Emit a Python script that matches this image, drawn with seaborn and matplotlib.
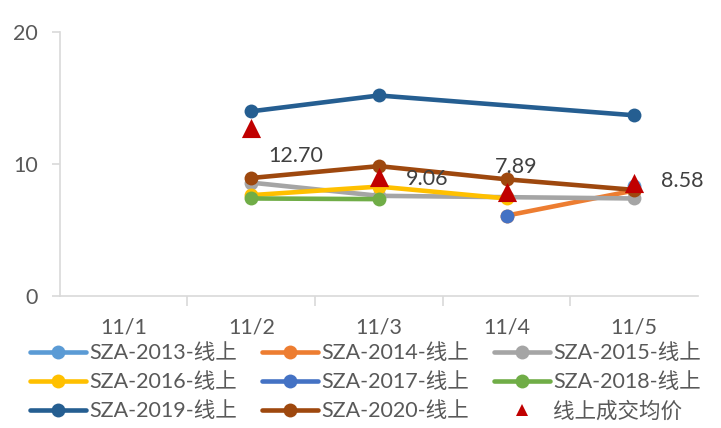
import numpy as np
import pandas as pd
import seaborn as sns
import matplotlib.pyplot as plt
from matplotlib.lines import Line2D

# 数据
dates = ['11/1', '11/2', '11/3', '11/4', '11/5']
series_names = ['SZA-2013-线上', 'SZA-2014-线上', 'SZA-2015-线上', 'SZA-2016-线上',
                'SZA-2017-线上', 'SZA-2018-线上', 'SZA-2019-线上', 'SZA-2020-线上']
sza_2013 = [np.nan, np.nan, np.nan, np.nan, 8.35]
sza_2014 = [np.nan, np.nan, np.nan, 6.1, 8.0]
sza_2015 = [np.nan, 8.6, 7.6, 7.5, 7.4]
sza_2016 = [np.nan, 7.65, 8.3, 7.4, np.nan]
sza_2017 = [np.nan, np.nan, np.nan, 6.1, np.nan]
sza_2018 = [np.nan, 7.4, 7.35, np.nan, np.nan]
sza_2019 = [np.nan, 14.0, 15.2, np.nan, 13.7]
sza_2020 = [np.nan, 8.95, 9.85, 8.85, 8.05]
avg_price = [np.nan, 12.70, 9.06, 7.89, 8.58]
avg_label = '线上成交均价'

colors = ['#5b9bd5', '#ed7d31', '#a5a5a5', '#ffc000',
          '#4472c4', '#70ad47', '#255e91', '#9e480e']

all_series = [sza_2013, sza_2014, sza_2015, sza_2016,
              sza_2017, sza_2018, sza_2019, sza_2020]

rows = []
for name, vals in zip(series_names, all_series):
    for i, v in enumerate(vals):
        rows.append({'pos': i, 'series': name, 'value': v})
df = pd.DataFrame(rows).dropna()
df_avg = pd.DataFrame({'pos': range(len(dates)), 'value': avg_price}).dropna()

sns.set_style('white')
plt.rcParams['font.family'] = ['Lato', 'Noto Sans CJK SC', 'DejaVu Sans']

fig = plt.figure(figsize=(7.21, 4.28), dpi=100)
ax = fig.add_axes([0.083, 0.308, 0.885, 0.617])

# 折线
for name, col in zip(series_names, colors):
    sub = df[df['series'] == name]
    sns.lineplot(data=sub, x='pos', y='value', color=col, linewidth=3.3,
                 marker='o', markersize=10, markeredgewidth=0, ax=ax,
                 legend=False, sort=True)

# 均价三角
sns.scatterplot(data=df_avg, x='pos', y='value', marker='^', color='#c00000',
                s=190, linewidth=0, ax=ax, zorder=5, legend=False)

# 数据标签
offsets = [(32, -20), (35, -2), (7, 18), (35, 1.5)]
for (x, y), (dx, dy) in zip(df_avg[['pos', 'value']].values, offsets):
    ax.annotate(f'{y:.2f}', (x, y), xytext=(dx, dy), textcoords='offset points',
                ha='center', va='center', fontsize=15.5, color='#404040')

ax.set_xlim(-0.5, len(dates) - 0.5)
ax.set_ylim(0, 20)
ax.set_yticks([0, 10, 20])
ax.set_xticks(range(len(dates)))
ax.set_xticklabels(dates)
ax.set_xticks(np.arange(0.5, len(dates) - 0.5, 1), minor=True)
ax.set_xlabel('')
ax.set_ylabel('')

for s in ['top', 'right']:
    ax.spines[s].set_visible(False)
for s in ['left', 'bottom']:
    ax.spines[s].set_color('#d9d9d9')
    ax.spines[s].set_linewidth(1.2)

ax.tick_params(axis='y', which='major', length=6, color='#d9d9d9', width=1.2,
               labelsize=15.5, labelcolor='#595959', pad=10, left=True)
ax.tick_params(axis='x', which='major', length=0, labelsize=15.5,
               labelcolor='#595959', pad=15)
ax.tick_params(axis='x', which='minor', length=7, color='#d9d9d9', width=1.2,
               bottom=True, direction='out')

# 图例 (按行排列)
handles = [Line2D([0], [0], color=c, linewidth=3.3, marker='o', markersize=10,
                  markeredgewidth=0) for c in colors]
handles.append(Line2D([0], [0], color='#c00000', linestyle='none', marker='^',
                      markersize=8, markeredgewidth=0))
labels = series_names + [avg_label]
order = [0, 3, 6, 1, 4, 7, 2, 5, 8]
fig.legend([handles[i] for i in order], [labels[i] for i in order],
           loc='upper left', bbox_to_anchor=(0.042, 0.198),
           ncol=3, frameon=False, fontsize=15.5, labelcolor='#595959',
           handlelength=2.6, handletextpad=0.15, columnspacing=1.15,
           labelspacing=0.42, borderaxespad=0, borderpad=0)

fig.savefig('out.png', dpi=100)
